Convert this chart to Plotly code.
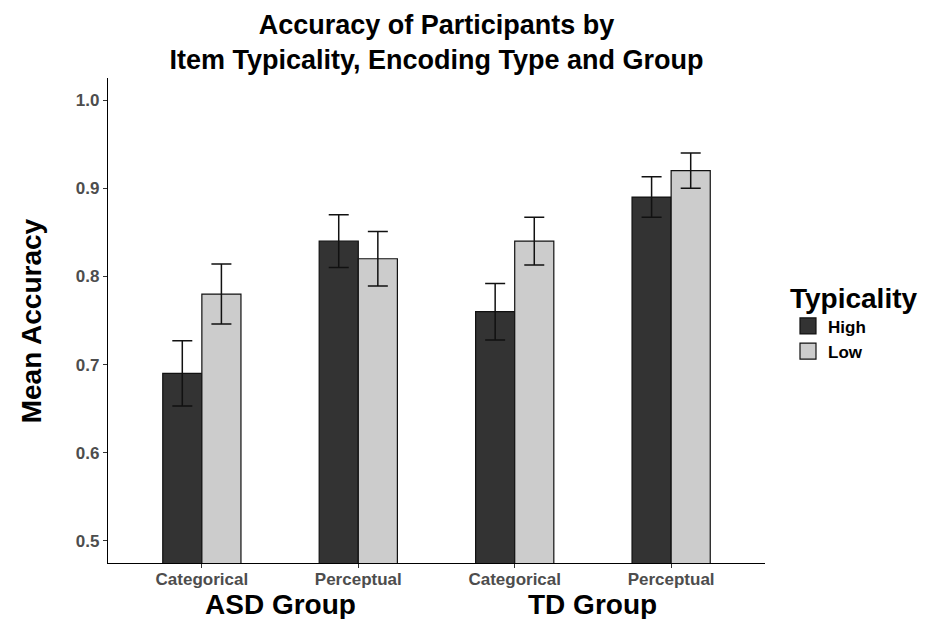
import plotly.graph_objects as go

categories = ["Categorical", "Perceptual", "Categorical ", "Perceptual "]
tick_labels = ["Categorical", "Perceptual", "Categorical", "Perceptual"]
groups = ["ASD Group", "TD Group"]
high_mean = [0.69, 0.84, 0.76, 0.89]
high_err = [0.037, 0.030, 0.032, 0.023]
low_mean = [0.78, 0.82, 0.84, 0.92]
low_err = [0.034, 0.031, 0.027, 0.020]

FONT = "Liberation Sans, Arial, sans-serif"

fig = go.Figure()
for name, vals, errs, color in [("High", high_mean, high_err, "#333333"),
                                ("Low", low_mean, low_err, "#CCCCCC")]:
    fig.add_trace(go.Bar(
        x=categories, y=vals, name=name, legendgroup=name, showlegend=False,
        marker=dict(color=color, line=dict(color="#111111", width=1.2)),
        error_y=dict(type="data", array=errs, visible=True, color="#111111",
                     thickness=1.5, width=10),
        base=0,
    ))
    # legend key (larger square, like ggplot's fill key)
    fig.add_trace(go.Scatter(
        x=[None], y=[None], mode="markers", name=name, legendgroup=name,
        marker=dict(symbol="square", size=16, color=color,
                    line=dict(color="#111111", width=1.2)),
    ))

fig.update_layout(
    width=920, height=611,
    plot_bgcolor="white", paper_bgcolor="white",
    barmode="group", bargap=0.5, bargroupgap=0,
    margin=dict(l=100, r=163, t=70, b=56, autoexpand=False),
    font=dict(family=FONT),
    title=dict(
        text="Accuracy of Participants by<br>Item Typicality, Encoding Type and Group",
        x=0.5, xref="paper", xanchor="center", yref="container", y=0.958, yanchor="top",
        pad=dict(t=0, b=0),
        font=dict(family=FONT, size=27, color="black", weight="bold"),
    ),
    legend=dict(
        title=dict(text="Typicality", font=dict(family=FONT, size=28, color="black", weight="bold")),
        font=dict(family=FONT, size=17, color="black", weight="bold"),
        x=1.035, xanchor="left", y=0.6, yanchor="top",
        bgcolor="rgba(0,0,0,0)", tracegroupgap=0, itemsizing="trace",
    ),
    showlegend=True,
)

fig.update_xaxes(
    type="category", tickvals=categories, ticktext=tick_labels,
    range=[-0.6, 3.6],
    showline=True, linecolor="black", linewidth=1.2, mirror=False,
    ticks="outside", ticklen=4, tickcolor="#333333", ticklabelstandoff=-4,
    tickfont=dict(family=FONT, size=17, color="#4D4D4D", weight="bold"),
    showgrid=False, zeroline=False,
)
fig.update_yaxes(
    range=[0.475, 1.025],
    tickvals=[0.5, 0.6, 0.7, 0.8, 0.9, 1.0],
    ticktext=["0.5", "0.6", "0.7", "0.8", "0.9", "1.0"],
    showline=True, linecolor="black", linewidth=1.2,
    ticks="outside", ticklen=4, tickcolor="#333333",
    tickfont=dict(family=FONT, size=17, color="#4D4D4D", weight="bold"),
    showgrid=False, zeroline=False,
)

fig.add_annotation(
    text="Mean Accuracy", textangle=-90,
    xref="paper", yref="paper", x=-0.116, y=0.5, xanchor="center", yanchor="middle",
    showarrow=False, font=dict(family=FONT, size=28, color="black", weight="bold"),
)
for i, g in enumerate(groups):
    fig.add_annotation(
        text=g, xref="x", yref="paper", x=0.5 + 2 * i, y=-0.086,
        xanchor="center", yanchor="middle", showarrow=False,
        font=dict(family=FONT, size=28, color="black", weight="bold"),
    )

fig.write_html("out.html")
